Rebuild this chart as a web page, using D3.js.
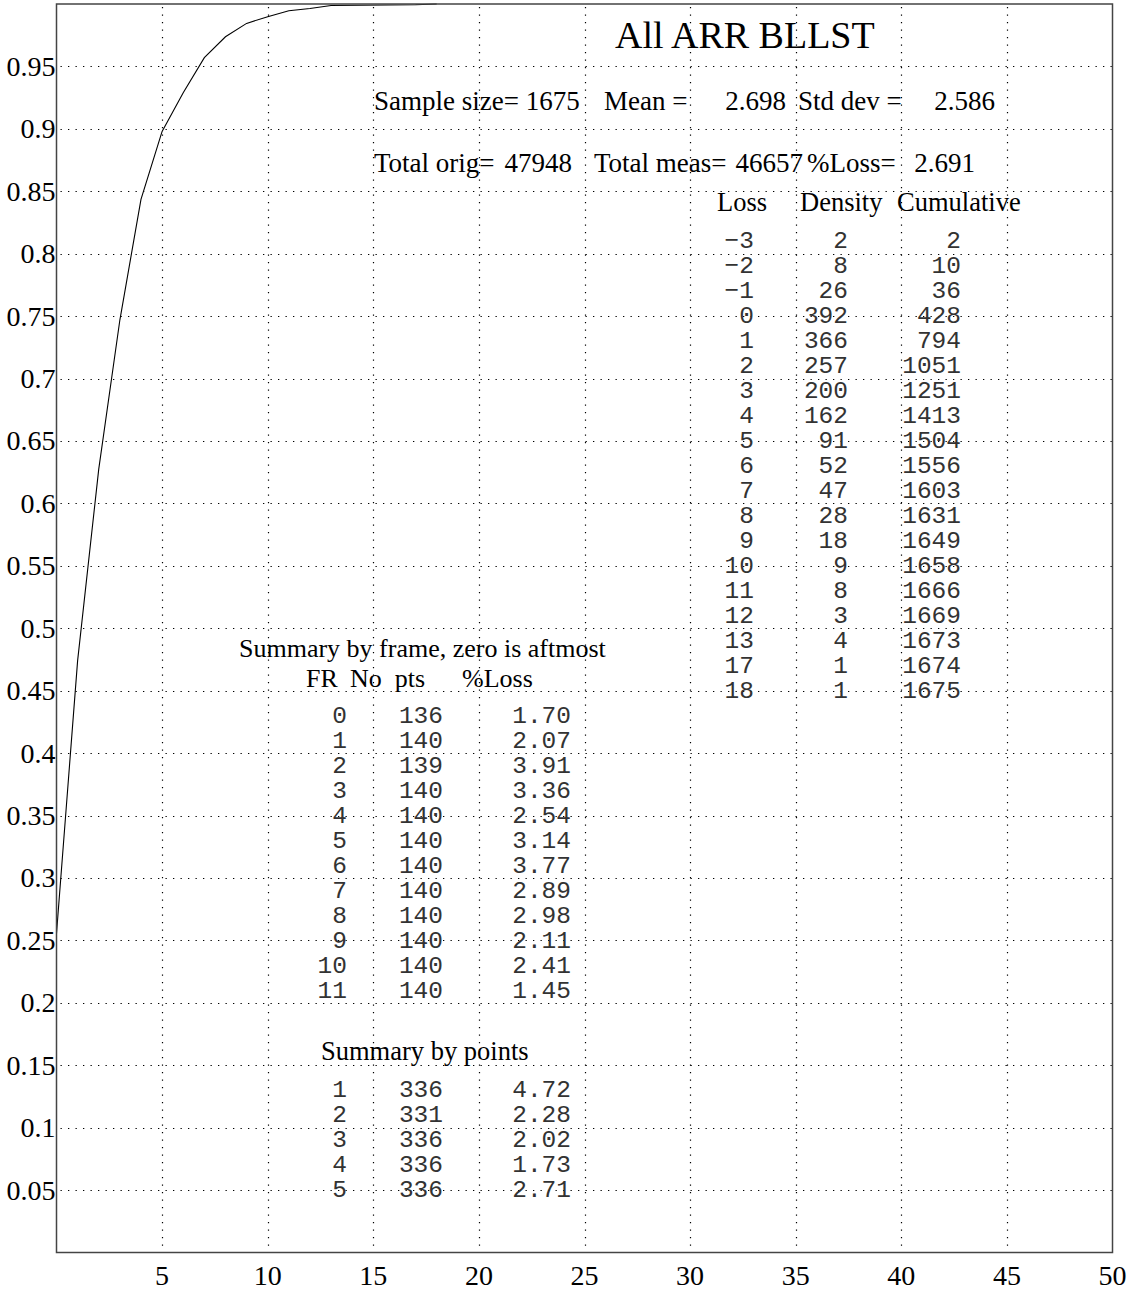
<!DOCTYPE html>
<html>
<head>
<meta charset="utf-8">
<script src="https://cdn.jsdelivr.net/npm/d3@7"></script>
<style>
  body { margin: 0; background: #fff; }
  .serif { font-family: 'Liberation Serif', 'Times New Roman', serif; fill: #000; }
  .mono { font-family: 'Liberation Mono', 'Courier New', monospace; fill: #333; }
  .grid line { stroke: #000; stroke-width: 1.2; stroke-dasharray: 1.3, 6.2; }
</style>
</head>
<body>
<div id="chart"></div>
<script>
// Loss distribution table
var lossValues = [-3, -2, -1, 0, 1, 2, 3, 4, 5, 6, 7, 8, 9, 10, 11, 12, 13, 17, 18]
var densityValues = [2, 8, 26, 392, 366, 257, 200, 162, 91, 52, 47, 28, 18, 9, 8, 3, 4, 1, 1]
var cumulativeValues = [2, 10, 36, 428, 794, 1051, 1251, 1413, 1504, 1556, 1603, 1631, 1649, 1658, 1666, 1669, 1673, 1674, 1675]

// Summary by frame
var frameIds = [0, 1, 2, 3, 4, 5, 6, 7, 8, 9, 10, 11]
var framePoints = [136, 140, 139, 140, 140, 140, 140, 140, 140, 140, 140, 140]
var frameLoss = [1.70, 2.07, 3.91, 3.36, 2.54, 3.14, 3.77, 2.89, 2.98, 2.11, 2.41, 1.45]

// Summary by points
var pointIds = [1, 2, 3, 4, 5]
var pointCounts = [336, 331, 336, 336, 336]
var pointLoss = [4.72, 2.28, 2.02, 1.73, 2.71]

// Header statistics
var sampleSize = 1675
var meanLoss = 2.698
var stdDev = 2.586
var totalOrig = 47948
var totalMeas = 46657
var pctLoss = 2.691

// Axis ticks
var xTicks = [5, 10, 15, 20, 25, 30, 35, 40, 45, 50]
var yTicks = [0.05, 0.1, 0.15, 0.2, 0.25, 0.3, 0.35, 0.4, 0.45, 0.5, 0.55, 0.6, 0.65, 0.7, 0.75, 0.8, 0.85, 0.9, 0.95]

// Layout
var width = 1130
var height = 1290
var plot = { left: 56.5, right: 1112.5, top: 4, bottom: 1252.5 }

var svg = d3.select('#chart').append('svg')
  .attr('width', width)
  .attr('height', height)

var x = d3.scaleLinear().domain([0, 50]).range([plot.left, plot.right])
var y = d3.scaleLinear().domain([0, 1]).range([plot.bottom, plot.top])

// Dotted grid
var grid = svg.append('g').attr('class', 'grid')

grid.selectAll('.vgrid')
  .data(xTicks.filter(function (d) { return d < 50 }))
  .enter().append('line')
  .attr('x1', function (d) { return Math.round(x(d)) + 0.5 })
  .attr('x2', function (d) { return Math.round(x(d)) + 0.5 })
  .attr('y1', plot.top + 3)
  .attr('y2', plot.bottom)

grid.selectAll('.hgrid')
  .data(yTicks)
  .enter().append('line')
  .attr('x1', plot.left + 4)
  .attr('x2', plot.right)
  .attr('y1', function (d) { return Math.round(y(d)) + 0.5 })
  .attr('y2', function (d) { return Math.round(y(d)) + 0.5 })

// Y tick labels
svg.append('g').selectAll('text')
  .data(yTicks)
  .enter().append('text')
  .attr('class', 'serif')
  .attr('x', plot.left - 1)
  .attr('y', function (d) { return y(d) + 9.5 })
  .attr('text-anchor', 'end')
  .style('font-size', '28px')
  .text(function (d) { return String(d) })

// X tick labels
svg.append('g').selectAll('text')
  .data(xTicks)
  .enter().append('text')
  .attr('class', 'serif')
  .attr('x', function (d) { return x(d) })
  .attr('y', 1285)
  .attr('text-anchor', 'middle')
  .style('font-size', '28px')
  .text(function (d) { return d })

// Cumulative curve (loss >= 0 only, the axis starts at zero)
var curveData = lossValues.map(function (d, i) {
  return { loss: d, frac: cumulativeValues[i] / sampleSize }
}).filter(function (d) { return d.loss >= 0 })

svg.append('path')
  .datum(curveData)
  .attr('fill', 'none')
  .attr('stroke', '#000')
  .attr('stroke-width', 1.1)
  .attr('d', d3.line()
    .x(function (d) { return x(d.loss) })
    .y(function (d) { return y(d.frac) }))

// Frame
svg.append('rect')
  .attr('x', plot.left)
  .attr('y', plot.top)
  .attr('width', plot.right - plot.left)
  .attr('height', plot.bottom - plot.top)
  .attr('fill', 'none')
  .attr('stroke', '#444')
  .attr('stroke-width', 1.5)

/**
 * Adds a single text label
 */
function label (cls, txt, px, py, size, anchor) {
  return svg.append('text')
    .attr('class', cls)
    .attr('x', px)
    .attr('y', py)
    .attr('text-anchor', anchor || 'start')
    .style('font-size', size + 'px')
    .style('white-space', 'pre')
    .text(txt)
}

// Title and statistics
label('serif', 'All ARR BLLST', 615, 48, 38)

label('serif', 'Sample size= ' + sampleSize, 374, 110, 27)
label('serif', 'Mean =', 604, 110, 27)
label('serif', meanLoss.toFixed(3), 786, 110, 27, 'end')
label('serif', 'Std dev =', 798, 110, 27)
label('serif', stdDev.toFixed(3), 995, 110, 27, 'end')

label('serif', 'Total orig=', 374, 172, 27)
label('serif', String(totalOrig), 572, 172, 27, 'end')
label('serif', 'Total meas=', 594, 172, 27)
label('serif', String(totalMeas), 803, 172, 27, 'end')
label('serif', '%Loss=', 807, 172, 27)
label('serif', pctLoss.toFixed(3), 975, 172, 27, 'end')

// Loss distribution table
label('serif', 'Loss', 717, 211, 26.5)
label('serif', 'Density', 800, 211, 26.5)
label('serif', 'Cumulative', 897, 211, 26.5)

var rowStep = 25

/**
 * Draws a right aligned monospace column
 */
function column (values, rightX, firstY, fmt) {
  svg.append('g').selectAll('text')
    .data(values)
    .enter().append('text')
    .attr('class', 'mono')
    .attr('x', rightX)
    .attr('y', function (d, i) { return firstY + i * rowStep })
    .attr('text-anchor', 'end')
    .style('font-size', '24.5px')
    .text(function (d) { return fmt ? fmt(d) : d })
}

column(lossValues, 754, 248, function (d) { return d < 0 ? '\u2212' + Math.abs(d) : d })
column(densityValues, 848, 248)
column(cumulativeValues, 961, 248)

// Summary by frame
label('serif', 'Summary by frame, zero is aftmost', 239, 657, 26)
label('serif', 'FR', 306, 687, 26)
label('serif', 'No  pts', 350, 687, 26)
label('serif', '%Loss', 462, 687, 26)

column(frameIds, 347, 723)
column(framePoints, 443, 723)
column(frameLoss, 571, 723, function (d) { return d.toFixed(2) })

// Summary by points
label('serif', 'Summary by points', 321, 1060, 26.5)

column(pointIds, 347, 1097)
column(pointCounts, 443, 1097)
column(pointLoss, 571, 1097, function (d) { return d.toFixed(2) })
</script>
</body>
</html>
